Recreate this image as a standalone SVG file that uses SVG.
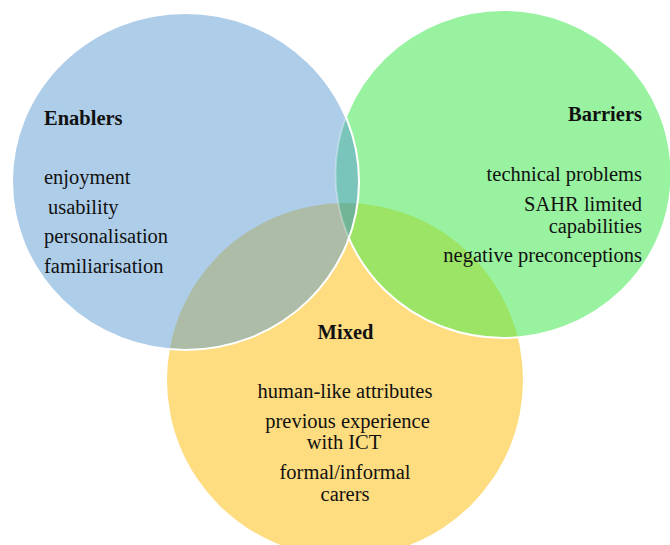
<svg xmlns="http://www.w3.org/2000/svg" width="670" height="545" viewBox="0 0 670 545">
  <style>
    text { font-family: "Liberation Serif", "Times New Roman", serif; font-size: 20.5px; fill: #111; }
    .title { font-weight: bold; }
    .edge { fill: none; stroke: #fff; stroke-width: 2; }
  </style>
  <defs>
    <ellipse id="eb" cx="185.5" cy="181.5" rx="173.5" ry="168.5"/>
    <ellipse id="eg" cx="503.5" cy="174" rx="168" ry="164"/>
    <ellipse id="ey" cx="345" cy="380" rx="178" ry="177"/>
    <clipPath id="cb"><use href="#eb"/></clipPath>
    <clipPath id="cg"><use href="#eg"/></clipPath>
    <clipPath id="cy"><use href="#ey"/></clipPath>
  </defs>
  <rect width="670" height="545" fill="#fff"/>

  <g id="mixed">
    <use href="#ey" fill="#fedc80"/>
  </g>
  <g id="barriers">
    <use href="#eg" fill="#98f2a0"/>
    <g clip-path="url(#cy)"><use href="#eg" fill="#9be466"/></g>
    <use href="#eg" class="edge"/>
  </g>
  <g id="enablers">
    <use href="#eb" fill="#aecde9"/>
    <g clip-path="url(#cy)"><use href="#eb" fill="#adbca7"/></g>
    <g clip-path="url(#cg)"><use href="#eb" fill="#79c4bb"/></g>
    <g clip-path="url(#cg)"><g clip-path="url(#cy)"><use href="#eb" fill="#72b596"/></g></g>
    <g clip-path="url(#cb)"><use href="#eg" class="edge" opacity="0.3"/></g>
    <use href="#eb" class="edge"/>
  </g>

  <g id="connectors"/>

  <g id="enablers-text">
    <text class="title" x="44" y="125">Enablers</text>
    <text x="44" y="184">enjoyment</text>
    <text x="48" y="214">usability</text>
    <text x="44" y="243">personalisation</text>
    <text x="44" y="273">familiarisation</text>
  </g>
  <g id="barriers-text" text-anchor="end">
    <text class="title" x="642" y="121">Barriers</text>
    <text x="642" y="181">technical problems</text>
    <text x="642" y="211">SAHR limited</text>
    <text x="642" y="233">capabilities</text>
    <text x="642" y="262">negative preconceptions</text>
  </g>
  <g id="mixed-text" text-anchor="middle">
    <text class="title" x="345.5" y="339">Mixed</text>
    <text x="345" y="398">human-like attributes</text>
    <text x="347.5" y="428">previous experience</text>
    <text x="344" y="449">with ICT</text>
    <text x="345" y="479">formal/informal</text>
    <text x="345" y="501">carers</text>
  </g>
</svg>
